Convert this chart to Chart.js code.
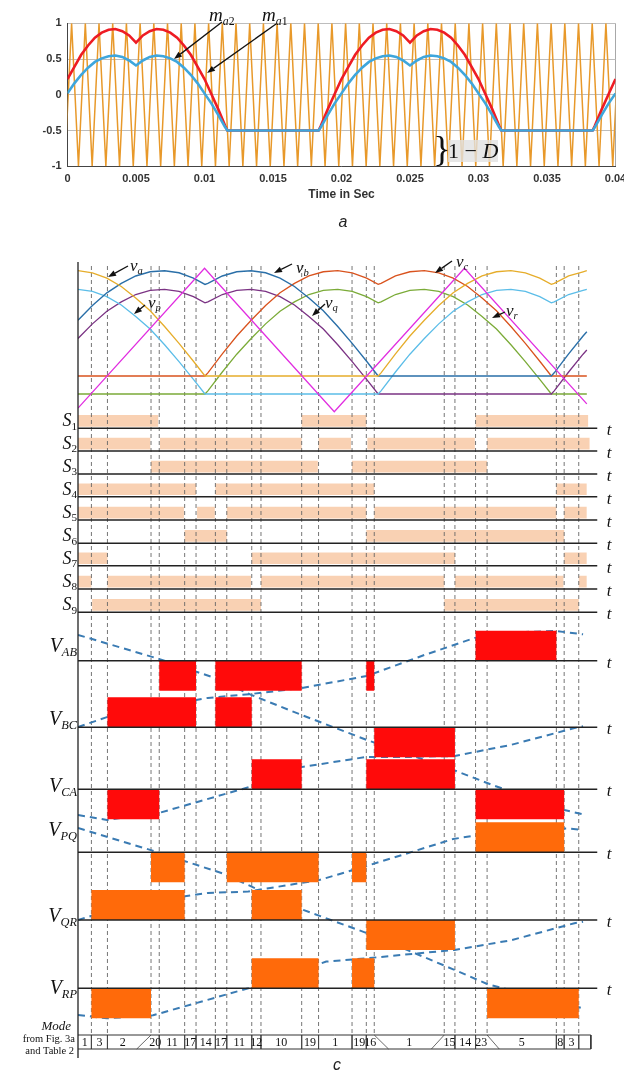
<!DOCTYPE html>
<html lang="en">
<head>
<meta charset="utf-8">
<title>Carrier comparison and switching pattern</title>
<script src="https://cdn.jsdelivr.net/npm/chart.js@4.4.1/dist/chart.umd.min.js"></script>
<style>
  html, body { margin: 0; padding: 0; background: #fff; }
  #page { position: relative; width: 624px; height: 1081px; overflow: hidden; }
  #page canvas { position: absolute; left: 0; }
  #chart-a { top: 0; }
  #chart-c { top: 250px; }
  #arrows { position: absolute; left: 0; top: 0; }
  .lbl { position: absolute; white-space: nowrap; line-height: 1; color: #111;
         font-family: "Liberation Serif", "DejaVu Serif", serif; }
  .lbl sub { font-size: 62%; position: relative; top: 0.3em; vertical-align: baseline; line-height: 0; }
  .cap { font-family: "Liberation Sans", Arial, sans-serif; font-style: italic; color: #222; }
</style>
</head>
<body>
<div id="page">
  <canvas id="chart-a" width="624" height="210"></canvas>
  <canvas id="chart-c" width="624" height="831"></canvas>
  <svg id="arrows" width="624" height="1081"></svg>
</div>
<script>
(function () {
  // ---------- (a) modulating signals against the carrier ----------
  const timeA = [
    0, 0.0005, 0.001, 0.0015, 0.002, 0.0025, 0.003, 0.0035, 0.004, 0.0045, 0.005, 0.0055, 0.006, 0.0065,
    0.007, 0.0075, 0.008, 0.0085, 0.009, 0.0095, 0.01, 0.0105, 0.011, 0.0115, 0.01167, 0.01833, 0.0185, 0.019, 0.0195,
    0.02, 0.0205, 0.021, 0.0215, 0.022, 0.0225, 0.023, 0.0235, 0.024, 0.0245, 0.025, 0.0255, 0.026, 0.0265,
    0.027, 0.0275, 0.028, 0.0285, 0.029, 0.0295, 0.03, 0.0305, 0.031, 0.0315, 0.03167, 0.03833, 0.0385, 0.039, 0.0395,
    0.04
  ];
  const ma1 = [
    0.22, 0.39, 0.56, 0.69, 0.80, 0.87, 0.91, 0.92, 0.89, 0.83, 0.73, 0.83, 0.89, 0.92,
    0.91, 0.87, 0.80, 0.69, 0.56, 0.39, 0.22, 0.01, -0.20, -0.43, -0.50, -0.50, -0.43, -0.20, 0.01,
    0.22, 0.39, 0.56, 0.69, 0.80, 0.87, 0.91, 0.92, 0.89, 0.83, 0.73, 0.83, 0.89, 0.92,
    0.91, 0.87, 0.80, 0.69, 0.56, 0.39, 0.22, 0.01, -0.20, -0.43, -0.50, -0.50, -0.43, -0.20, 0.01,
    0.22
  ];
  const ma2 = [
    0.02, 0.16, 0.28, 0.38, 0.46, 0.51, 0.54, 0.55, 0.53, 0.48, 0.41, 0.48, 0.53, 0.55,
    0.54, 0.51, 0.46, 0.38, 0.28, 0.16, 0.02, -0.12, -0.28, -0.45, -0.50, -0.50, -0.45, -0.28, -0.12,
    0.02, 0.16, 0.28, 0.38, 0.46, 0.51, 0.54, 0.55, 0.53, 0.48, 0.41, 0.48, 0.53, 0.55,
    0.54, 0.51, 0.46, 0.38, 0.28, 0.16, 0.02, -0.12, -0.28, -0.45, -0.50, -0.50, -0.45, -0.28, -0.12,
    0.02
  ];
  const carrierPeaks = [
    0.0003, 0.0013, 0.0023, 0.0033, 0.0043, 0.0053, 0.0063, 0.0073, 0.0083, 0.0093,
    0.0103, 0.0113, 0.0123, 0.0133, 0.0143, 0.0153, 0.0163, 0.0173, 0.0183, 0.0193,
    0.0203, 0.0213, 0.0223, 0.0233, 0.0243, 0.0253, 0.0263, 0.0273, 0.0283, 0.0293,
    0.0303, 0.0313, 0.0323, 0.0333, 0.0343, 0.0353, 0.0363, 0.0373, 0.0383, 0.0393, 0.0403
  ];
  const carrierTroughs = [
    -0.0002, 0.0008, 0.0018, 0.0028, 0.0038, 0.0048, 0.0058, 0.0068, 0.0078, 0.0088,
    0.0098, 0.0108, 0.0118, 0.0128, 0.0138, 0.0148, 0.0158, 0.0168, 0.0178, 0.0188,
    0.0198, 0.0208, 0.0218, 0.0228, 0.0238, 0.0248, 0.0258, 0.0268, 0.0278, 0.0288,
    0.0298, 0.0308, 0.0318, 0.0328, 0.0338, 0.0348, 0.0358, 0.0368, 0.0378, 0.0388, 0.0398
  ];
  const timeTicks = [0, 0.005, 0.01, 0.015, 0.02, 0.025, 0.03, 0.035, 0.04];
  const levelTicks = [-1, -0.5, 0, 0.5, 1];

  // ---------- (c) references, switching states and output voltages ----------
  // angle in electrical degrees across the window
  const angleC = [0, 10, 20, 30, 40, 50, 60, 70, 80, 88, 90, 100, 110, 120, 130, 140, 150, 160, 170, 180,
    190, 200, 208, 210, 220, 230, 240, 250, 260, 270, 280, 290, 300, 310, 320, 328, 330, 340, 350, 352.6];
  const va = [1.00, 0.98, 0.93, 0.85, 0.74, 0.62, 0.47, 0.31, 0.14, 0, 0, 0, 0, 0, 0, 0, 0, 0, 0, 0,
    0, 0, 0, 0.03, 0.21, 0.38, 0.53, 0.67, 0.79, 0.88, 0.95, 0.99, 1.00, 0.98, 0.93, 0.87, 0.88, 0.95, 0.99, 1.00];
  const vb = [0.53, 0.67, 0.79, 0.88, 0.95, 0.99, 1.00, 0.98, 0.93, 0.87, 0.88, 0.95, 0.99, 1.00, 0.98, 0.93, 0.85, 0.74, 0.62, 0.47,
    0.31, 0.14, 0, 0, 0, 0, 0, 0, 0, 0, 0, 0, 0, 0, 0, 0, 0.03, 0.21, 0.38, 0.42];
  const vc = [0, 0, 0, 0, 0, 0, 0, 0, 0, 0, 0.03, 0.21, 0.38, 0.53, 0.67, 0.79, 0.88, 0.95, 0.99, 1.00,
    0.98, 0.93, 0.87, 0.88, 0.95, 0.99, 1.00, 0.98, 0.93, 0.85, 0.74, 0.62, 0.47, 0.31, 0.14, 0, 0, 0, 0, 0];
  const vp = [1.00, 0.98, 0.93, 0.85, 0.74, 0.62, 0.47, 0.31, 0.14, 0, 0, 0, 0, 0, 0, 0, 0, 0, 0, 0,
    0, 0, 0, 0.03, 0.21, 0.38, 0.53, 0.67, 0.79, 0.88, 0.95, 0.99, 1.00, 0.98, 0.93, 0.87, 0.88, 0.95, 0.99, 1.00];
  const vq = [0.53, 0.67, 0.79, 0.88, 0.95, 0.99, 1.00, 0.98, 0.93, 0.87, 0.88, 0.95, 0.99, 1.00, 0.98, 0.93, 0.85, 0.74, 0.62, 0.47,
    0.31, 0.14, 0, 0, 0, 0, 0, 0, 0, 0, 0, 0, 0, 0, 0, 0, 0.03, 0.21, 0.38, 0.42];
  const vr = [0, 0, 0, 0, 0, 0, 0, 0, 0, 0, 0.03, 0.21, 0.38, 0.53, 0.67, 0.79, 0.88, 0.95, 0.99, 1.00,
    0.98, 0.93, 0.87, 0.88, 0.95, 0.99, 1.00, 0.98, 0.93, 0.85, 0.74, 0.62, 0.47, 0.31, 0.14, 0, 0, 0, 0, 0];
  const triAngles = [0, 87.7, 177.6, 267.8, 352.6];
  const triLevels = [-0.95, 1, -1, 1, -0.89];

  // switch on-intervals [from, to] in degrees
  const S1 = [[0, 55.6], [155.0, 199.8], [275.5, 353.5]];
  const S2 = [[0, 50.1], [56.8, 155.0], [166.7, 189.2], [200.5, 275.0], [283.5, 354.5]];
  const S3 = [[50.6, 166.2], [189.9, 283.5]];
  const S4 = [[0, 81.8], [95.2, 205.3], [331.5, 352.5]];
  const S5 = [[0, 73.4], [82.5, 94.8], [103.1, 199.8], [205.3, 331.5], [336.9, 352.5]];
  const S6 = [[73.9, 103.1], [199.8, 336.9]];
  const S7 = [[0, 20.4], [120.4, 261.2], [336.9, 352.5]];
  const S8 = [[0, 9.3], [20.4, 119.9], [126.8, 253.8], [261.2, 336.4], [347.0, 352.5]];
  const S9 = [[9.8, 126.8], [253.8, 347.0]];

  // output line voltages [from, to, level]
  const vAB = [[56.3, 81.8, -1], [95.2, 155.0, -1], [199.8, 205.3, -1], [275.5, 331.5, 1]];
  const vBC = [[20.4, 81.8, 1], [95.2, 120.4, 1], [205.3, 261.2, -1]];
  const vCA = [[20.4, 56.3, -1], [120.4, 155.0, 1], [199.8, 261.2, 1], [275.5, 336.9, -1]];
  const vPQ = [[50.6, 73.9, -1], [103.1, 166.7, -1], [189.9, 199.8, -1], [275.5, 336.9, 1]];
  const vQR = [[9.3, 73.9, 1], [120.4, 155.0, 1], [199.8, 261.2, -1]];
  const vRP = [[9.3, 50.6, -1], [120.4, 166.7, 1], [189.9, 205.3, 1], [283.5, 347.0, -1]];

  // dashed references, [angle, level] in pulse units about their own row
  const refAB = [[0, 0.86], [56, 0.06], [95, -0.58], [120, -1.14], [155, -1.81], [200, -2.64], [260, -3.64], [287, -4.14], [337, -4.98], [350, -5.12]];
  const refBC = [[0, 0.01], [20, 0.34], [50, 0.64], [90, 0.98], [120, 1.11], [155, 1.31], [200, 1.71], [240, 2.41], [275, 2.98], [310, 3.18], [331, 3.21], [350, 3.10]];
  const refCA = [[0, -0.86], [20, -1.02], [56, -0.79], [119, 0.08], [155, 0.74], [200, 1.08], [230, 1.08], [261, 1.11], [300, 1.48], [344, 2.04], [350, 2.1]];
  const refPQ = [[0, 0.81], [50, 0.08], [100, -0.7], [155, -1.9], [200, -2.69], [260, -3.9], [284, -4.4], [350, -5.2]];
  const refQR = [[0, 0], [20, 0.3], [50, 0.62], [90, 0.9], [118, 0.95], [167, 1.33], [200, 1.8], [260, 2.7], [300, 3.0], [340, 3.05], [350, 3.0]];
  const refRP = [[0, -0.89], [20, -1.0], [52, -0.9], [118, 0], [172, 0.89], [200, 1.0], [261, 1.28], [300, 1.6], [344, 2.17], [350, 2.22]];

  const modeEdges = [9.3, 20.4, 50.6, 56.3, 73.9, 81.8, 95.2, 103.1, 120.4, 126.8, 155.0, 166.7,
    189.9, 199.8, 205.3, 253.8, 261.2, 275.5, 283.5, 331.5, 336.9, 347.0];
  const modeNames = ["1", "3", "2", "20", "11", "17", "14", "17", "11", "12", "10", "19",
    "1", "19", "16", "1", "15", "14", "23", "5", "8", "3", ""];

  // ---------- layout of panel (c), in page pixels ----------
  const L = {
    upper: { base: 376, span: 105.3 },
    lower: { base: 394, span: 104.7 },
    tri: { mid: 340, half: 71.7 },
    sBase: [428.3, 451, 474, 496.7, 520, 543.3, 565.7, 589, 612.3],
    sGap: 1.6, sHeight: 11.7,
    vBase: [660.7, 727.3, 789.3, 852.3, 920, 988.3],
    vUnit: 30,
    axisTop: 262, axisBottom: 1058, dashTop: 266,
    boxTop: 1035, boxBottom: 1049, boxRight: 355.4, lineEnd: 360,
    vLabelY: [645, 718, 785, 829, 915, 987],
    slash: { 50.6: -9.9, 205.3: 9.9, 253.8: -8.9, 283.5: 8.4 }
  };

  const BREAK = { x: NaN, y: null };

  function line(points, color, width, extra) {
    return Object.assign({
      data: points, borderColor: color, borderWidth: width, pointRadius: 0,
      tension: 0, fill: false, spanGaps: false
    }, extra || {});
  }

  function wave(values, group) {
    return angleC.map((a, i) => ({ x: a, y: group.base - values[i] * group.span }));
  }

  function barRow(intervals, base) {
    const lo = base - L.sGap;
    const hi = lo - L.sHeight;
    const pts = [{ x: 0, y: lo }];
    intervals.forEach(([a, b]) => {
      pts.push({ x: a, y: lo }, { x: a, y: hi }, { x: b, y: hi }, { x: b, y: lo });
    });
    pts.push({ x: L.lineEnd, y: lo });
    return line(pts, "rgba(0,0,0,0)", 0, {
      fill: { value: lo }, backgroundColor: "#f9d1b3", order: 10
    });
  }

  function pulseRow(pulses, base, color) {
    const pts = [{ x: 0, y: base }];
    pulses.forEach(([a, b, lvl]) => {
      const top = base - lvl * L.vUnit;
      pts.push({ x: a, y: base }, { x: a, y: top }, { x: b, y: top }, { x: b, y: base });
    });
    pts.push({ x: L.lineEnd, y: base });
    return line(pts, "rgba(0,0,0,0)", 0, {
      fill: { value: base }, backgroundColor: color, order: 7
    });
  }

  function refCurve(ref, base) {
    return line(ref.map(([a, v]) => ({ x: a, y: base - v * L.vUnit })), "#3a7bb3", 2, {
      borderDash: [7, 5], order: 8
    });
  }

  // ---------- chart (a) ----------
  const carrierPts = carrierPeaks.map(t => ({ x: t, y: 1 }))
    .concat(carrierTroughs.map(t => ({ x: t, y: -1 })))
    .sort((p, q) => p.x - q.x);

  const tickFont = { family: "'Liberation Sans', Arial, sans-serif", size: 11, weight: "bold" };

  new Chart(document.getElementById("chart-a"), {
    type: "line",
    data: {
      datasets: [
        line(timeA.map((t, i) => ({ x: t, y: ma2[i] })), "#3ea6dc", 2.6),
        line(timeA.map((t, i) => ({ x: t, y: ma1[i] })), "#ee1c24", 2.6),
        line(carrierPts, "#e8992a", 1.5)
      ]
    },
    options: {
      responsive: false, animation: false, devicePixelRatio: 1,
      layout: { padding: { top: 23.3, right: 8.5, bottom: 3.7, left: 0 } },
      plugins: { legend: { display: false }, tooltip: { enabled: false } },
      scales: {
        x: {
          type: "linear", min: 0, max: 0.04,
          afterBuildTicks: s => { s.ticks = timeTicks.map(v => ({ value: v })); },
          afterFit: s => { s.height = 40; s.paddingLeft = 0; s.paddingRight = 0; },
          ticks: { font: tickFont, color: "#333", padding: 6, maxRotation: 0,
                   callback: v => String(Number(v.toFixed(3))) },
          grid: { drawTicks: false, lineWidth: 1,
                  color: c => (c.tick && c.tick.value === 0.04 ? "#a8a8a8" : "rgba(0,0,0,0)") },
          border: { color: "#444", width: 1 },
          title: { display: true, text: "Time in Sec", color: "#333",
                   font: { family: "'Liberation Sans', Arial, sans-serif", size: 12, weight: "bold" } }
        },
        y: {
          min: -1, max: 1,
          afterBuildTicks: s => { s.ticks = levelTicks.map(v => ({ value: v })); },
          afterFit: s => { s.width = 67.5; },
          ticks: { font: tickFont, color: "#333", padding: 6, callback: v => String(v) },
          grid: { drawTicks: false, color: "#bdbdbd", lineWidth: 1 },
          border: { color: "#444", width: 1 }
        }
      }
    }
  });

  // ---------- chart (c) ----------
  const datasets = [];

  // left axis and the mode table
  datasets.push(line([{ x: 0, y: L.axisTop }, { x: 0, y: L.axisBottom }], "#222", 1.3, { order: 1, clip: false }));
  datasets.push(line([
    { x: 0, y: L.boxTop }, { x: L.boxRight, y: L.boxTop },
    { x: L.boxRight, y: L.boxBottom }, { x: 0, y: L.boxBottom }
  ], "#333", 1, { order: 1, clip: false }));
  const sepPts = [];
  modeEdges.forEach(a => {
    const lean = L.slash[a];
    if (lean !== undefined) {
      sepPts.push({ x: a, y: L.boxTop }, { x: a + lean, y: L.boxBottom }, BREAK);
    } else {
      sepPts.push({ x: a, y: L.boxTop }, { x: a, y: L.boxBottom }, BREAK);
    }
  });
  datasets.push(line(sepPts, "#444", 0.8, { order: 1 }));

  // reference waveforms and the triangular carrier
  datasets.push(line(triAngles.map((a, i) => ({ x: a, y: L.tri.mid - triLevels[i] * L.tri.half })), "#e12ee0", 1.3, { order: 4 }));
  datasets.push(line(wave(va, L.upper), "#e6ad2b", 1.3, { order: 5 }));
  datasets.push(line(wave(vb, L.upper), "#2a6fa8", 1.4, { order: 5 }));
  datasets.push(line(wave(vc, L.upper), "#d9531e", 1.3, { order: 5 }));
  datasets.push(line(wave(vp, L.lower), "#5bbde8", 1.3, { order: 5 }));
  datasets.push(line(wave(vq, L.lower), "#7b3384", 1.3, { order: 5 }));
  datasets.push(line(wave(vr, L.lower), "#7bab38", 1.3, { order: 5 }));

  // black time baselines
  const basePts = [];
  L.sBase.concat(L.vBase).forEach(b => {
    basePts.push({ x: 0, y: b }, { x: L.lineEnd, y: b }, BREAK);
  });
  datasets.push(line(basePts, "#222", 1.4, { order: 6 }));

  // output voltage pulses
  const abc = [vAB, vBC, vCA];
  const pqr = [vPQ, vQR, vRP];
  abc.forEach((p, i) => datasets.push(pulseRow(p, L.vBase[i], "#ff0a0a")));
  pqr.forEach((p, i) => datasets.push(pulseRow(p, L.vBase[i + 3], "#ff6a0a")));

  // dashed references
  [refAB, refBC, refCA, refPQ, refQR, refRP].forEach((r, i) => datasets.push(refCurve(r, L.vBase[i])));

  // dashed mode boundaries
  const gridPts = [];
  modeEdges.forEach(a => { gridPts.push({ x: a, y: L.dashTop }, { x: a, y: L.boxTop }, BREAK); });
  datasets.push(line(gridPts, "#666", 0.9, { borderDash: [4, 3], order: 9 }));

  // switching states
  [S1, S2, S3, S4, S5, S6, S7, S8, S9].forEach((s, i) => datasets.push(barRow(s, L.sBase[i])));

  const chartC = new Chart(document.getElementById("chart-c"), {
    type: "line",
    data: { datasets },
    options: {
      responsive: false, animation: false, devicePixelRatio: 1,
      layout: { padding: { left: 78, right: 26.5, top: 0, bottom: 0 } },
      plugins: { legend: { display: false }, tooltip: { enabled: false } },
      scales: {
        x: { type: "linear", min: 0, max: 360, display: false },
        y: { type: "linear", min: 250, max: 1081, reverse: true, display: false }
      }
    }
  });

  // ---------- text and arrows ----------
  const page = document.getElementById("page");
  function label(html, x, y, size, align, cls) {
    const el = document.createElement("div");
    el.className = "lbl" + (cls ? " " + cls : "");
    el.innerHTML = html;
    el.style.left = x + "px";
    el.style.top = y + "px";
    el.style.fontSize = size + "px";
    const ax = { left: "0", center: "-50%", right: "-100%" }[align || "left"];
    el.style.transform = "translate(" + ax + ", -50%)";
    page.appendChild(el);
    return el;
  }

  const svg = document.getElementById("arrows");
  const NS = "http://www.w3.org/2000/svg";
  function arrow(x1, y1, x2, y2) {
    const ang = Math.atan2(y2 - y1, x2 - x1);
    const len = 8, wid = 3;
    const bx = x2 - len * Math.cos(ang), by = y2 - len * Math.sin(ang);
    const ln = document.createElementNS(NS, "line");
    ln.setAttribute("x1", x1); ln.setAttribute("y1", y1);
    ln.setAttribute("x2", bx); ln.setAttribute("y2", by);
    ln.setAttribute("stroke", "#111"); ln.setAttribute("stroke-width", "1.3");
    svg.appendChild(ln);
    const head = document.createElementNS(NS, "polygon");
    const px = wid * Math.sin(ang), py = wid * Math.cos(ang);
    head.setAttribute("points", [x2, y2, bx + px, by - py, bx - px, by + py].join(" "));
    head.setAttribute("fill", "#111");
    svg.appendChild(head);
  }

  // (a)
  label("<i>m</i><sub><i>a</i>2</sub>", 209, 14, 19);
  label("<i>m</i><sub><i>a</i>1</sub>", 262, 14, 19);
  arrow(222, 22, 174, 59);
  arrow(276, 24, 207, 73);
  label("}", 442, 149, 36, "center").style.fontWeight = "300";
  const oneMinusD = label("1 &minus; <i>D</i>", 448, 151, 22);
  oneMinusD.style.background = "rgba(225,225,225,0.8)";
  label("a", 343, 222, 16, "center", "cap");

  // (c) waveform names
  label("<i>v</i><sub><i>a</i></sub>", 130, 265, 17);
  label("<i>v</i><sub><i>b</i></sub>", 296, 267, 17);
  label("<i>v</i><sub><i>c</i></sub>", 456, 261, 17);
  label("<i>v</i><sub><i>p</i></sub>", 148, 302, 17);
  label("<i>v</i><sub><i>q</i></sub>", 325, 302, 17);
  label("<i>v</i><sub><i>r</i></sub>", 506, 310, 17);
  arrow(128, 266, 108, 277);
  arrow(145, 305, 134, 314);
  arrow(292, 264, 274, 273);
  arrow(452, 261, 435, 273);
  arrow(325, 304, 312, 316);
  arrow(505, 312, 492, 318);

  const xs = chartC.scales.x;
  const pageY = v => chartC.scales.y.getPixelForValue(v) + 250;

  L.sBase.forEach((b, i) => {
    label("<i>S</i><sub>" + (i + 1) + "</sub>", 77, pageY(b) - 8, 18, "right");
    label("<i>t</i>", 609, pageY(b) + 1, 17, "center");
  });
  const vNames = ["AB", "BC", "CA", "PQ", "QR", "RP"];
  L.vBase.forEach((b, i) => {
    label("<i>V</i><sub><i>" + vNames[i] + "</i></sub>", 77, L.vLabelY[i], 20, "right");
    label("<i>t</i>", 609, pageY(b) + 1, 17, "center");
  });

  // mode table
  const cellEdges = [0].concat(modeEdges, [L.boxRight]);
  const boxMid = pageY((L.boxTop + L.boxBottom) / 2);
  modeNames.forEach((name, i) => {
    if (!name) return;
    let mid = (cellEdges[i] + cellEdges[i + 1]) / 2;
    if (name === "2") mid = 31;
    label(name, xs.getPixelForValue(mid), boxMid, 12, "center");
  });
  label("<i>Mode</i>", 71, 1025, 13, "right");
  label("from Fig. 3a", 75, 1039, 10.5, "right");
  label("and Table 2", 74, 1051, 10.5, "right");
  label("c", 337, 1065, 16, "center", "cap");
})();
</script>
</body>
</html>
